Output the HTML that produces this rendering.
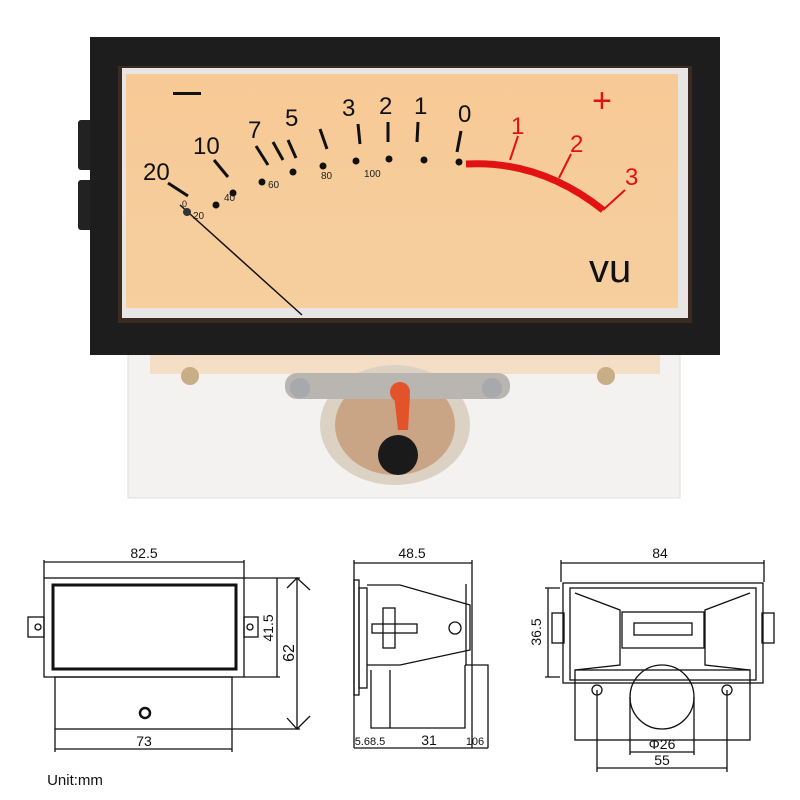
<!DOCTYPE html>
<html><head><meta charset="utf-8"><style>
html,body{margin:0;padding:0;background:#fff;}
svg{display:block;font-family:"Liberation Sans",sans-serif;}
</style></head><body>
<svg width="800" height="800" viewBox="0 0 800 800" xmlns="http://www.w3.org/2000/svg">
<defs>
<linearGradient id="face" x1="0" y1="0" x2="0" y2="1">
<stop offset="0" stop-color="#f7c995"/><stop offset="1" stop-color="#f6cf9f"/>
</linearGradient>
</defs>
<!-- lower plastic body -->
<rect x="128" y="350" width="552" height="148" fill="#f4f2f0" stroke="#e2e0de"/>
<rect x="150" y="352" width="510" height="22" fill="#f3d7b3" opacity="0.7"/>
<!-- mechanism -->
<ellipse cx="395" cy="425" rx="75" ry="60" fill="#dcd2c4"/>
<ellipse cx="395" cy="425" rx="60" ry="50" fill="#c9a585"/>
<rect x="285" y="373" width="225" height="26" rx="12" fill="#b9b6b2"/>
<circle cx="300" cy="388" r="10" fill="#a7a9ad"/>
<circle cx="492" cy="388" r="10" fill="#a7a9ad"/>
<circle cx="400" cy="392" r="10" fill="#e2532a"/>
<path d="M394 395 L410 395 L408 430 L398 430 Z" fill="#e2532a"/>
<circle cx="398" cy="455" r="20" fill="#1a1a1a"/>
<circle cx="190" cy="376" r="9" fill="#c8ae84"/>
<circle cx="606" cy="376" r="9" fill="#c8ae84"/>
<!-- side knobs -->
<rect x="78" y="120" width="16" height="50" rx="3" fill="#222"/>
<rect x="78" y="180" width="16" height="50" rx="3" fill="#222"/>
<!-- black frame -->
<rect x="90" y="37" width="630" height="318" fill="#1d1d1d"/>
<rect x="118" y="66" width="574" height="257" fill="#3a2a20"/>
<rect x="122" y="68" width="566" height="250" fill="#e8e6e4"/>
<rect x="126" y="74" width="552" height="234" fill="url(#face)"/>
<!-- scale -->
<g fill="#111" font-size="24">
<text x="143" y="180">20</text>
<text x="193" y="154">10</text>
<text x="248" y="138">7</text>
<text x="285" y="126">5</text>
<text x="342" y="116">3</text>
<text x="379" y="114">2</text>
<text x="414" y="114">1</text>
<text x="458" y="122">0</text>
<text x="589" y="282" font-size="40">vu</text>
</g>
<rect x="173" y="92" width="28" height="3" fill="#111"/>
<g stroke="#111" stroke-width="3" fill="none">
<path d="M168 183 L188 196"/><path d="M214 160 L228 177"/><path d="M256 146 L268 165"/>
<path d="M273 142 L283 160"/><path d="M288 140 L296 158"/><path d="M320 129 L327 149"/>
<path d="M358 124 L360 144"/><path d="M388 122 L388 142"/><path d="M418 122 L417 142"/><path d="M461 131 L457 152"/>
</g>
<g fill="#111">
<circle cx="216" cy="205" r="3.5"/><circle cx="233" cy="193" r="3.5"/><circle cx="262" cy="182" r="3.5"/>
<circle cx="293" cy="172" r="3.5"/><circle cx="323" cy="166" r="3.5"/><circle cx="356" cy="161" r="3.5"/>
<circle cx="389" cy="159" r="3.5"/><circle cx="424" cy="160" r="3.5"/><circle cx="459" cy="162" r="3.5"/>
</g>
<g fill="#222" font-size="10">
<text x="193" y="219">20</text><text x="224" y="201">40</text><text x="268" y="188">60</text>
<text x="321" y="179">80</text><text x="364" y="177">100</text>
</g>
<text x="182" y="207" font-size="9" fill="#222">0</text>
<path d="M466 164 Q540 160 603 210" stroke="#e31212" stroke-width="7" fill="none"/>
<g stroke="#e31212" stroke-width="2" fill="none">
<path d="M510 160 L518 136"/><path d="M559 178 L571 154"/><path d="M603 210 L625 190"/>
</g>
<g fill="#e31212" font-size="24">
<text x="511" y="134">1</text><text x="570" y="152">2</text><text x="625" y="185">3</text>
<text x="592" y="112" font-size="34">+</text>
</g>
<path d="M180 205 L302 315" stroke="#111" stroke-width="1.5"/>
<circle cx="187" cy="212" r="4" fill="#333"/>

<!-- drawings -->
<g stroke="#111" stroke-width="1.3" fill="none">
<!-- left view -->
<rect x="44" y="578" width="200" height="99"/>
<rect x="53" y="585" width="183" height="84" stroke-width="3"/>
<rect x="28" y="617" width="16" height="20"/><circle cx="38" cy="627" r="3"/>
<rect x="244" y="617" width="14" height="20"/><circle cx="250" cy="627" r="3"/>
<rect x="55" y="677" width="177" height="52"/>
<path d="M44 560 V578 M244 560 V578 M44 562 H244"/>
<path d="M55 729 V752 M232 729 V752 M55 749 H232"/>
<path d="M244 578 H300 M244 677 H280 M277 578 V677"/>
<path d="M232 729 H300 M297 578 V729 M287 588 L297 578 L310 590 M287 718 L297 729 L310 716"/>
<circle cx="145" cy="713" r="5" stroke-width="2.5"/>
<!-- middle view -->
<path d="M354 560 V748 M472 560 V748 M354 563 H472"/>
<rect x="354" y="580" width="5" height="115"/>
<rect x="359" y="588" width="8" height="100"/>
<path d="M367 585 H400 L470 605 L470 650 L400 665 H367"/>
<path d="M466 584 L466 665"/>
<circle cx="455" cy="628" r="6"/>
<rect x="372" y="624" width="45" height="9"/>
<rect x="383" y="608" width="12" height="40"/>
<path d="M371 670 V728 H465 V665 M390 670 V728"/>
<path d="M465 665 H488 V748"/>
<path d="M354 748 H488"/>
<!-- right view -->
<path d="M561 560 V582 M764 560 V582 M561 563 H764"/>
<rect x="563" y="583" width="200" height="100"/>
<rect x="570" y="588" width="186" height="92"/>
<path d="M575 593 L620 610 L620 665 L575 670 M750 593 L705 610 L705 665 L750 670"/>
<rect x="622" y="612" width="82" height="36"/>
<rect x="634" y="623" width="58" height="12"/>
<rect x="552" y="613" width="12" height="30"/><rect x="762" y="613" width="12" height="30"/>
<rect x="575" y="670" width="175" height="70"/>
<circle cx="662" cy="697" r="32"/>
<circle cx="597" cy="690" r="5"/><circle cx="727" cy="690" r="5"/>
<path d="M545 588 H560 M545 677 H560 M548 588 V677"/>
<path d="M597 690 V772 M727 690 V772 M597 768 H727"/>
<path d="M630 697 V755 M694 697 V755 M630 752 H694"/>
</g>
<g fill="#111" font-size="14" text-anchor="middle">
<text x="144" y="558">82.5</text>
<text x="144" y="746">73</text>
<text x="412" y="558">48.5</text>
<text x="660" y="558">84</text>
<text x="662" y="749">Φ26</text>
<text x="662" y="765">55</text>
<text x="429" y="745">31</text>
<text x="475" y="745" font-size="11">106</text>
<text x="370" y="745" font-size="11">5.68.5</text>
<text transform="translate(273,628) rotate(-90)">41.5</text>
<text transform="translate(294,653) rotate(-90)" font-size="16">62</text>
<text transform="translate(541,632) rotate(-90)">36.5</text>
<text x="75" y="785" font-size="15">Unit:mm</text>
</g>
</svg>
</body></html>
